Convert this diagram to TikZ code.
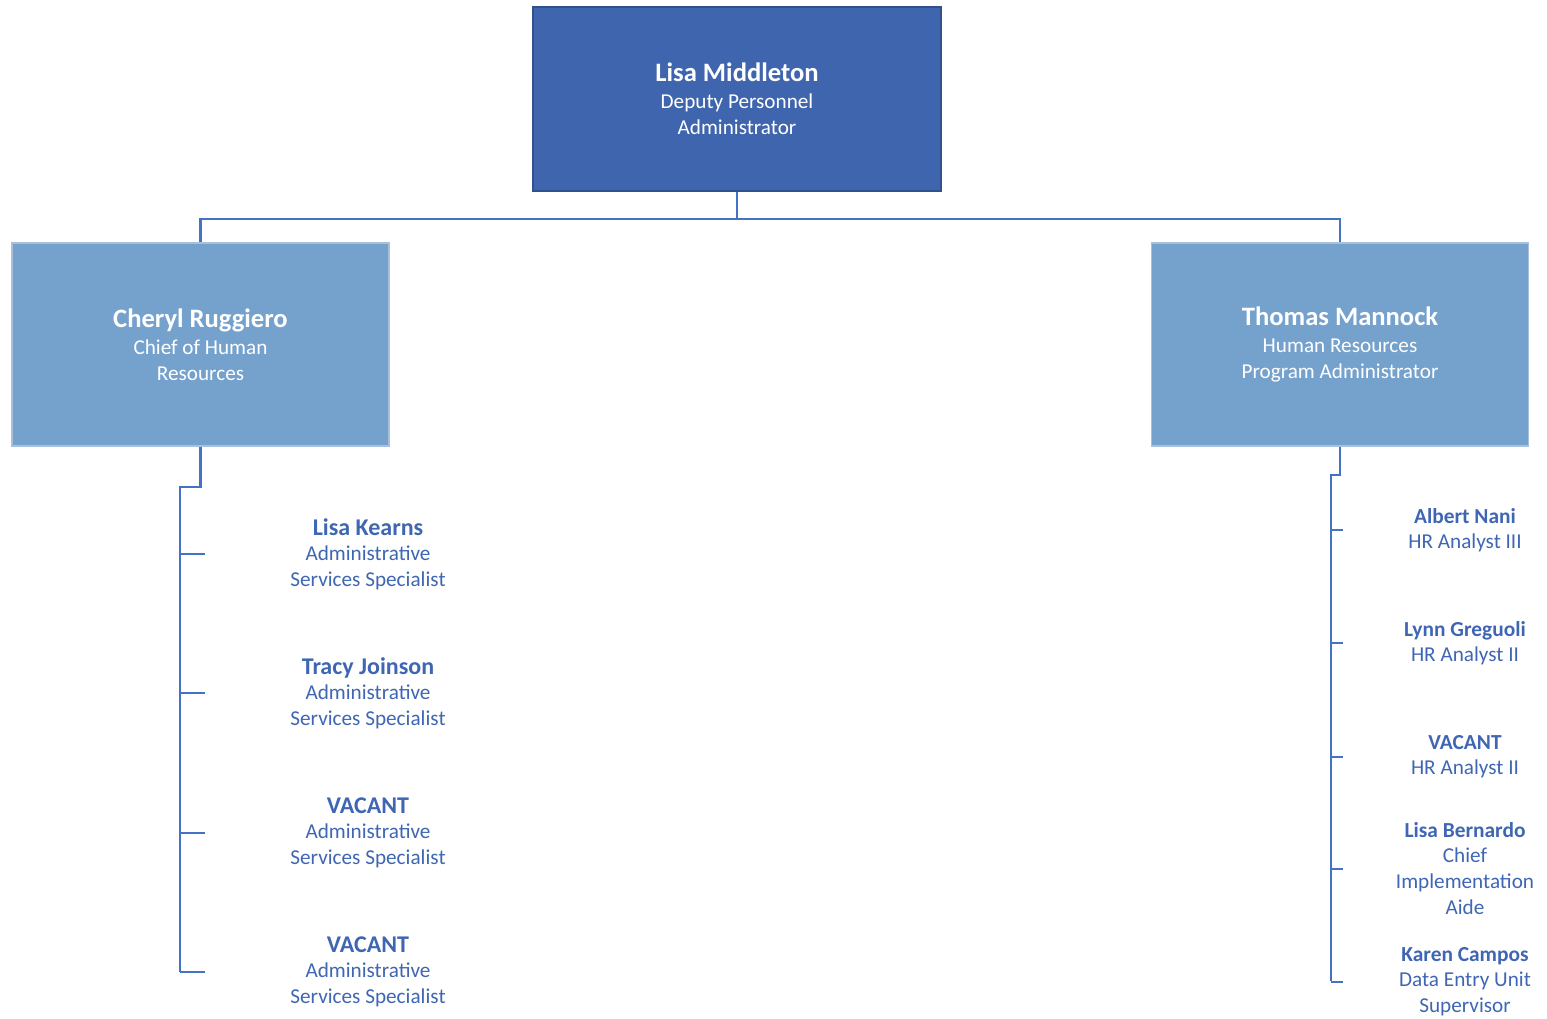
\documentclass[tikz,border=0pt]{standalone}
\usepackage{fontspec}
\setmainfont{Carlito}

\definecolor{topblue}{HTML}{3F65AE}
\definecolor{topedge}{HTML}{2F528F}
\definecolor{midblue}{HTML}{75A1CD}
\definecolor{midedge}{HTML}{A9C0DC}
\definecolor{linkblue}{HTML}{4472C4}
\definecolor{textblue}{HTML}{3F66B3}

\newcommand{\bigname}[1]{{\fontsize{13.3}{15}\selectfont\bfseries #1}}
\newcommand{\staffname}[1]{{\fontsize{12}{14}\selectfont\bfseries #1}}
\newcommand{\aidename}[1]{{\fontsize{10.7}{13}\selectfont\bfseries #1}}

\begin{document}
\begin{tikzpicture}[x = 0.5pt, y = -0.5pt,
	link/.style = {draw = linkblue, line width = 1.4pt},
	headbox/.style = {draw = topedge, line width = 0.8pt, fill = topblue, text = white,
		minimum width = 204pt, minimum height = 92pt, align = center,
		font = \fontsize{10.6}{13}\selectfont},
	chiefbox/.style = {draw = midedge, line width = 0.6pt, fill = midblue, text = white,
		minimum width = 188.5pt, minimum height = 101.5pt, align = center,
		font = \fontsize{10.6}{13}\selectfont},
	staff/.style = {text = textblue, align = center, inner sep = 0pt,
		font = \fontsize{10.6}{13}\selectfont}]

\useasboundingbox (0, 0) rectangle (1547, 1018);

% Head

\node [headbox] (middleton) at (737, 99) {\bigname{Lisa Middleton}\\[0.5pt]Deputy Personnel\\Administrator};

% Chiefs

\node [chiefbox] (ruggiero) at (200.5, 344.5) {\bigname{Cheryl Ruggiero}\\[0.5pt]Chief of Human\\Resources};
\node [chiefbox] (mannock) at (1340, 344.5) {\bigname{Thomas Mannock}\\[0.5pt]Human Resources\\Program Administrator};

\coordinate (bus) at (737, 219);
\draw [link] (middleton.south) -- (bus);
\draw [link] (ruggiero.north) |- (bus) -| (mannock.north);

% Staff under Cheryl Ruggiero

\node [staff] (kearns) at (368, 554) {\staffname{Lisa Kearns}\\[-0.5pt]Administrative\\Services Specialist};
\node [staff] (joinson) at (368, 693) {\staffname{Tracy Joinson}\\[-0.5pt]Administrative\\Services Specialist};
\node [staff] (vacantA) at (368, 833) {\staffname{VACANT}\\[-0.5pt]Administrative\\Services Specialist};
\node [staff] (vacantB) at (368, 972) {\staffname{VACANT}\\[-0.5pt]Administrative\\Services Specialist};

\coordinate (lbend) at (180, 487);
\coordinate (lfoot) at (180, 972);
\draw [link] (ruggiero.south) |- (lbend) -- (lfoot);
\foreach \who in {kearns, joinson, vacantA, vacantB}
	\draw [link] (lbend |- \who) -- ++(25, 0);

% Staff under Thomas Mannock

\node [staff] (nani) at (1465, 530) {\aidename{Albert Nani}\\[-0.5pt]HR Analyst III};
\node [staff] (greguoli) at (1465, 643) {\aidename{Lynn Greguoli}\\[-0.5pt]HR Analyst II};
\node [staff] (vacantC) at (1465, 757) {\aidename{VACANT}\\[-0.5pt]HR Analyst II};
\node [staff] (bernardo) at (1465, 869) {\aidename{Lisa Bernardo}\\[-0.5pt]Chief\\Implementation\\Aide};
\node [staff] (campos) at (1465, 982) {\aidename{Karen Campos}\\[-0.5pt]Data Entry Unit\\Supervisor};

\coordinate (rbend) at (1331, 475);
\coordinate (rfoot) at (1331, 981);
\draw [link] (mannock.south) |- (rbend) -- (rfoot);
\foreach \who in {nani, greguoli, vacantC, bernardo, campos}
	\draw [link] (rbend |- \who) -- ++(12, 0);

\end{tikzpicture}
\end{document}
